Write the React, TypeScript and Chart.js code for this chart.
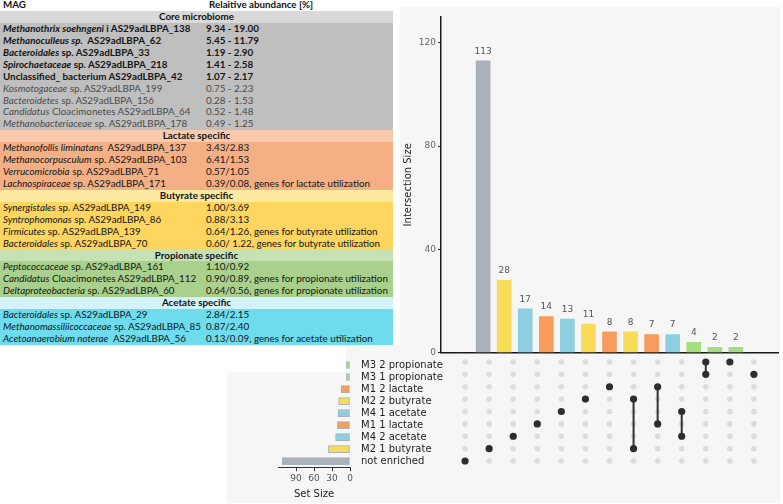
import React, { useEffect, useRef } from "react";
import { Chart, registerables } from "chart.js";
Chart.register(...registerables);
Chart.defaults.font.family = "'DejaVu Sans', sans-serif";

// ---------- UpSet data ----------
const setNames = [
  "M3 2 propionate",
  "M3 1 propionate",
  "M1 2 lactate",
  "M2 2 butyrate",
  "M4 1 acetate",
  "M1 1 lactate",
  "M4 2 acetate",
  "M2 1 butyrate",
  "not enriched",
];
const setGroups = ["propionate", "propionate", "lactate", "butyrate", "acetate", "lactate", "acetate", "butyrate", "none"];
const setSizes = [6, 6, 15, 19, 20, 21, 24, 36, 113];
const intersectionSizes = [113, 28, 17, 14, 13, 11, 8, 8, 7, 7, 4, 2, 2];
const intersectionMembers = [[8], [7], [6], [5], [4], [3], [2], [3, 7], [2, 5], [4, 6], [0, 1], [0], [1]];
const yTicksIntersection = [0, 40, 80, 120];
const xTicksSetSize = [0, 30, 60, 90];

const groupColor: Record<string, string> = {
  none: "#a9b1b9",
  butyrate: "#f8dc57",
  acetate: "#8dcfe1",
  lactate: "#f79c5c",
  propionate: "#a6dc82",
};

// ---------- Table data ----------
type Row = [string, string, string, boolean?, boolean?]; // italic part, rest, value, bold, grey
const headerCols = ["MAG", "Relaitive abundance [%]"];
const coreTitle = "Core microbiome";
const coreRows: Row[] = [
  ["Methanothrix soehngeni", " i AS29adLBPA_138", "9.34 - 19.00", true],
  ["Methanoculleus sp.", "  AS29adLBPA_62", "5.45 - 11.79", true],
  ["Bacteroidales", " sp. AS29adLBPA_33", "1.19 - 2.90", true],
  ["Spirochaetaceae", " sp. AS29adLBPA_218", "1.41 - 2.58", true],
  ["", "Unclassified_ bacterium AS29adLBPA_42", "1.07 - 2.17", true],
  ["Kosmotogaceae", " sp. AS29adLBPA_199", "0.75 - 2.23", false, true],
  ["Bacteroidetes", " sp. AS29adLBPA_156", "0.28 - 1.53", false, true],
  ["Candidatus", " Cloacimonetes AS29adLBPA_64", "0.52 - 1.48", false, true],
  ["Methanobacteriaceae", " sp. AS29adLBPA_178", "0.49 - 1.25", false, true],
];
const lactateTitle = "Lactate specific";
const lactateRows: Row[] = [
  ["Methanofollis liminatans", "  AS29adLBPA_137", "3.43/2.83"],
  ["Methanocorpusculum", " sp. AS29adLBPA_103", "6.41/1.53"],
  ["Verrucomicrobia", " sp. AS29adLBPA_71", "0.57/1.05"],
  ["Lachnospiraceae", " sp. AS29adLBPA_171", "0.39/0.08, genes for lactate utilization"],
];
const butyrateTitle = "Butyrate specific";
const butyrateRows: Row[] = [
  ["Synergistales", " sp. AS29adLBPA_149", "1.00/3.69"],
  ["Syntrophomonas", " sp. AS29adLBPA_86", "0.88/3.13"],
  ["Firmicutes", " sp. AS29adLBPA_139", "0.64/1.26, genes for butyrate utilization"],
  ["Bacteroidales", " sp. AS29adLBPA_70", "0.60/ 1.22, genes for butyrate utilization"],
];
const propionateTitle = "Propionate specific";
const propionateRows: Row[] = [
  ["Peptococcaceae", " sp. AS29adLBPA_161", "1.10/0.92"],
  ["Candidatus", " Cloacimonetes AS29adLBPA_112", "0.90/0.89, genes for propionate utilization"],
  ["Deltaproteobacteria", " sp. AS29adLBPA_60", "0.64/0.56, genes for propionate utilization"],
];
const acetateTitle = "Acetate specific";
const acetateRows: Row[] = [
  ["Bacteroidales", " sp. AS29adLBPA_29", "2.84/2.15"],
  ["Methanomassiliicoccaceae", " sp. AS29adLBPA_85", "0.87/2.40"],
  ["Acetoanaerobium noterae", "  AS29adLBPA_56", "0.13/0.09, genes for acetate utilization"],
];

const sections = [
  { title: coreTitle, rows: coreRows, head: "#d9d9d9", body: "#bfbfbf" },
  { title: lactateTitle, rows: lactateRows, head: "#f9cbac", body: "#f4af84" },
  { title: butyrateTitle, rows: butyrateRows, head: "#fde99f", body: "#fdd55f" },
  { title: propionateTitle, rows: propionateRows, head: "#c6e1b4", body: "#a9d08d" },
  { title: acetateTitle, rows: acetateRows, head: "#d3f3f8", body: "#6edced" },
];

const ROW_H = 11.92;
const ROW_Y0 = -0.8;
const TABLE_W = 393;
const VAL_X = 206;

function Table() {
  const items: React.ReactNode[] = [];
  let k = 0;
  const baseFont: React.CSSProperties = {
    fontFamily: "Lato, 'Open Sans', sans-serif",
    fontSize: "9.8px",
    lineHeight: ROW_H + "px",
    whiteSpace: "pre",
  };
  const rowStyle = (bg: string): React.CSSProperties => ({
    position: "absolute",
    left: 0,
    top: ROW_Y0 + k * ROW_H,
    width: TABLE_W,
    height: ROW_H,
    background: bg,
    ...baseFont,
  });
  items.push(
    <div key="hdr" style={{ ...rowStyle("#ffffff"), fontWeight: 700, color: "#111" }}>
      <span style={{ position: "absolute", left: 3 }}>{headerCols[0]}</span>
      <span style={{ position: "absolute", left: VAL_X + 3 }}>{headerCols[1]}</span>
    </div>
  );
  k++;
  sections.forEach((s, si) => {
    items.push(
      <div key={"t" + si} style={{ ...rowStyle(s.head), fontWeight: 700, color: "#111", textAlign: "center" }}>
        {s.title}
      </div>
    );
    k++;
    s.rows.forEach((r, ri) => {
      const bold = !!r[3];
      const grey = !!r[4];
      items.push(
        <div
          key={"r" + si + "_" + ri}
          style={{ ...rowStyle(s.body), fontWeight: bold ? 700 : 400, color: grey ? "#4a4a4a" : "#141414" }}
        >
          <span style={{ position: "absolute", left: 3 }}>
            <i>{r[0]}</i>
            {r[1]}
          </span>
          <span style={{ position: "absolute", left: VAL_X }}>{r[2]}</span>
        </div>
      );
      k++;
    });
  });
  return <>{items}</>;
}

// ---------- Charts ----------
function IntersectionBars() {
  const ref = useRef<HTMLCanvasElement>(null);
  useEffect(() => {
    const colors = intersectionMembers.map((m) => groupColor[setGroups[m[0]]]);
    const labelPlugin = {
      id: "barLabels",
      afterDatasetsDraw(chart: any) {
        const ctx = chart.ctx;
        const meta = chart.getDatasetMeta(0);
        ctx.save();
        ctx.font = "9px 'DejaVu Sans'";
        ctx.fillStyle = "#555";
        ctx.textAlign = "center";
        ctx.textBaseline = "bottom";
        meta.data.forEach((el: any, i: number) => {
          ctx.fillText(String(intersectionSizes[i]), el.x, el.y - 5);
        });
        ctx.restore();
      },
    };
    const chart = new Chart(ref.current!, {
      type: "bar",
      data: {
        datasets: [
          {
            data: intersectionSizes.map((v, i) => ({ x: i + 1, y: v })),
            backgroundColor: colors,
            barThickness: 14,
          },
        ],
      },
      options: {
        animation: false,
        responsive: false,
        maintainAspectRatio: false,
        layout: { padding: { top: 17, right: 5, bottom: 6, left: 0 } },
        plugins: { legend: { display: false }, tooltip: { enabled: false } },
        scales: {
          x: {
            type: "linear",
            min: 0,
            max: 14,
            grid: { display: false },
            ticks: { display: false },
            border: { display: true, color: "#1a1a1a", width: 1.5 },
            afterFit: (s: any) => {
              s.height = 0;
            },
          },
          y: {
            min: 0,
            max: 130,
            afterBuildTicks: (s: any) => {
              s.ticks = yTicksIntersection.map((v) => ({ value: v }));
            },
            ticks: { color: "#666", font: { size: 9 }, padding: 2 },
            grid: { display: true, drawOnChartArea: false, drawTicks: true, tickLength: 3, color: "#333" },
            border: { display: true, color: "#1a1a1a", width: 1.5 },
            title: { display: true, text: "Intersection Size", color: "#222", font: { size: 10 }, padding: { top: 2, bottom: 0 } },
            afterFit: (s: any) => {
              s.width = 41;
            },
          },
        },
      },
      plugins: [labelPlugin],
    } as any);
    return () => chart.destroy();
  }, []);
  return (
    <canvas
      ref={ref}
      width={383}
      height={360}
      style={{ position: "absolute", left: 400, top: 0, width: 383, height: 360 }}
    />
  );
}

function Matrix() {
  const ref = useRef<HTMLCanvasElement>(null);
  useEffect(() => {
    const bg: { x: number; y: number }[] = [];
    const active: { x: number; y: number }[] = [];
    const lines: any[] = [];
    intersectionMembers.forEach((m, c) => {
      for (let r = 0; r < setNames.length; r++) {
        if (m.includes(r)) active.push({ x: c + 1, y: r });
        else bg.push({ x: c + 1, y: r });
      }
      if (m.length > 1) {
        lines.push({
          type: "line",
          data: [
            { x: c + 1, y: Math.min(...m) },
            { x: c + 1, y: Math.max(...m) },
          ],
          borderColor: "#333",
          borderWidth: 2,
          pointRadius: 0,
          order: 1,
        });
      }
    });
    const chart = new Chart(ref.current!, {
      type: "scatter",
      data: {
        datasets: [
          { data: active, backgroundColor: "#2e2e2e", borderWidth: 0, pointRadius: 3.6, order: 0 },
          ...lines,
          { data: bg, backgroundColor: "#dcdcdc", borderWidth: 0, pointRadius: 2.8, order: 2 },
        ],
      },
      options: {
        animation: false,
        responsive: false,
        maintainAspectRatio: false,
        layout: { padding: { left: 41, right: 5, top: 5.8, bottom: 7.8 } },
        plugins: { legend: { display: false }, tooltip: { enabled: false } },
        scales: {
          x: { type: "linear", min: 0, max: 14, display: false },
          y: { type: "linear", min: -0.5, max: 8.5, reverse: true, display: false },
        },
      },
    } as any);
    return () => chart.destroy();
  }, []);
  return (
    <canvas
      ref={ref}
      width={383}
      height={125}
      style={{ position: "absolute", left: 400, top: 350, width: 383, height: 125 }}
    />
  );
}

function SetSizes() {
  const ref = useRef<HTMLCanvasElement>(null);
  useEffect(() => {
    const chart = new Chart(ref.current!, {
      type: "bar",
      data: {
        labels: setNames,
        datasets: [
          {
            data: setSizes,
            backgroundColor: setGroups.map((g) => groupColor[g]),
            borderColor: "#a9b1b9",
            borderWidth: 1,
            borderSkipped: false,
            barThickness: 7,
          },
        ],
      },
      options: {
        indexAxis: "y",
        animation: false,
        responsive: false,
        maintainAspectRatio: false,
        layout: { padding: { left: 51, top: 5.8, right: 0, bottom: 0 } },
        plugins: { legend: { display: false }, tooltip: { enabled: false } },
        scales: {
          x: {
            min: 0,
            max: 120,
            reverse: true,
            afterBuildTicks: (s: any) => {
              s.ticks = xTicksSetSize.map((v) => ({ value: v }));
            },
            ticks: { color: "#555", font: { size: 9 }, padding: 2, maxRotation: 0, autoSkip: false },
            grid: { display: true, drawOnChartArea: false, drawTicks: true, tickLength: 4, color: "#333" },
            border: { display: true, color: "#333", width: 1 },
            title: { display: true, text: "Set Size", color: "#222", font: { size: 10 }, padding: { top: 0, bottom: 4 } },
            afterFit: (s: any) => {
              s.height = 36.8;
            },
          },
          y: {
            position: "right",
            grid: { display: false },
            border: { display: false },
            ticks: { color: "#1e1e1e", font: { size: 10 }, padding: 3, autoSkip: false },
            afterFit: (s: any) => {
              s.width = 102;
            },
          },
        },
      },
    } as any);
    return () => chart.destroy();
  }, []);
  return (
    <canvas
      ref={ref}
      width={225}
      height={154}
      style={{ position: "absolute", left: 227, top: 350, width: 225, height: 154 }}
    />
  );
}

export default function App() {
  return (
    <div
      style={{
        position: "absolute",
        left: 0,
        top: 0,
        width: 783,
        height: 504,
        background: "#ffffff",
        overflow: "hidden",
      }}
    >
      <div style={{ position: "absolute", left: 227, top: 7, width: 553, height: 496, background: "#f6f6f6" }} />
      <div style={{ position: "absolute", left: 0, top: 0, width: 400, height: 346, background: "#ffffff" }} />
      <div style={{ position: "absolute", left: 0, top: 346, width: 346, height: 26, background: "#ffffff" }} />
      <Table />
      <IntersectionBars />
      <Matrix />
      <SetSizes />
    </div>
  );
}
